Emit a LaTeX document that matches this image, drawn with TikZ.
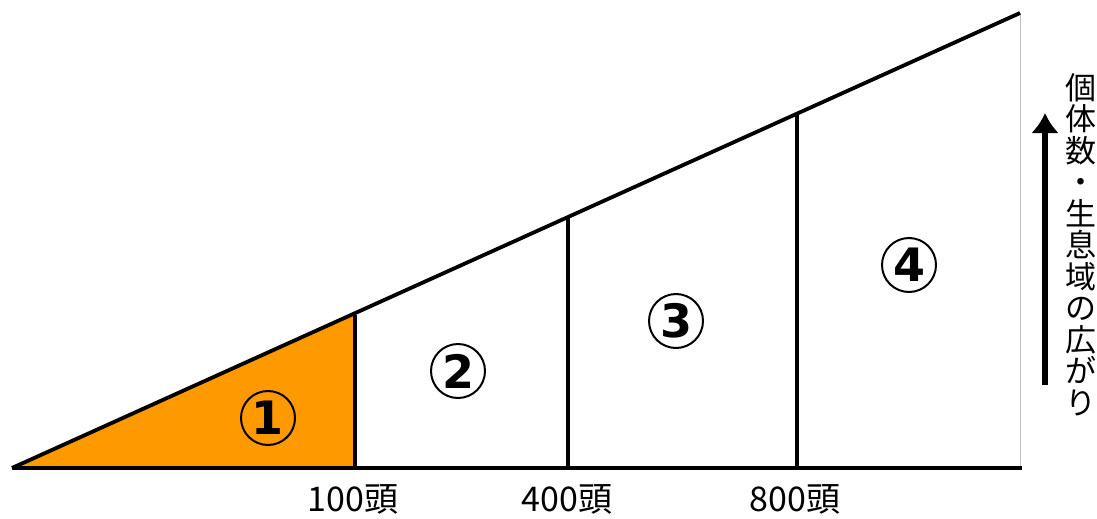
\documentclass[tikz,border=0pt]{standalone}
\usepackage{fontspec}
\usetikzlibrary{arrows.meta}
\setmainfont{DejaVu Sans}
\newfontfamily\cjk{Noto Sans CJK JP}
\definecolor{orangefill}{HTML}{FF9900}
\begin{document}
\begin{tikzpicture}[x=1pt,y=-1pt,
  mainline/.style={line width=3.8pt},
  numcircle/.style={circle,draw,line width=2pt,minimum size=54pt,inner sep=0pt,font=\fontsize{46}{46}\selectfont\bfseries},
  ticklabel/.style={font=\cjk\fontsize{34}{38}\selectfont,inner sep=0pt}]
\useasboundingbox (0,0) rectangle (1097,519);
\coordinate (O) at (12,468);
\coordinate (T) at (1020,13);
\coordinate (BR) at (1022,468);
\coordinate (b1) at (355,468);
\coordinate (t1) at (355,315);
\coordinate (b2) at (568,468);
\coordinate (t2) at (568,217);
\coordinate (b3) at (797,468);
\coordinate (t3) at (797,114);
\fill[orangefill] (O) -- (t1) -- (b1) -- cycle;
\draw[gray!50,line width=1pt] (1020,13) -- (1020,468);
\draw[mainline] (O) -- (T);
\draw[mainline] (O) -- (BR);
\draw[mainline] (b1) -- (t1);
\draw[mainline] (b2) -- (t2);
\draw[mainline] (b3) -- (t3);
\node[numcircle] (n1) at (268,418) {1};
\node[numcircle] (n2) at (458,371) {2};
\node[numcircle] (n3) at (676,321) {3};
\node[numcircle] (n4) at (909,265) {4};
\node[ticklabel] (l1) at (353,499) {100頭};
\node[ticklabel] (l2) at (567,499) {400頭};
\node[ticklabel] (l3) at (795,499) {800頭};
\coordinate (a0) at (1045,385);
\coordinate (a1) at (1045,113);
\draw[line width=6.5pt,-{Latex[length=20pt 0,width=28pt 0]}] (a0) -- (a1);
\node[font=\cjk\fontsize{31}{31.5}\selectfont,align=center,inner sep=0pt,anchor=north] (ax) at (1081,73) {個\\体\\数\\・\\生\\息\\域\\の\\広\\が\\り};
\end{tikzpicture}
\end{document}
